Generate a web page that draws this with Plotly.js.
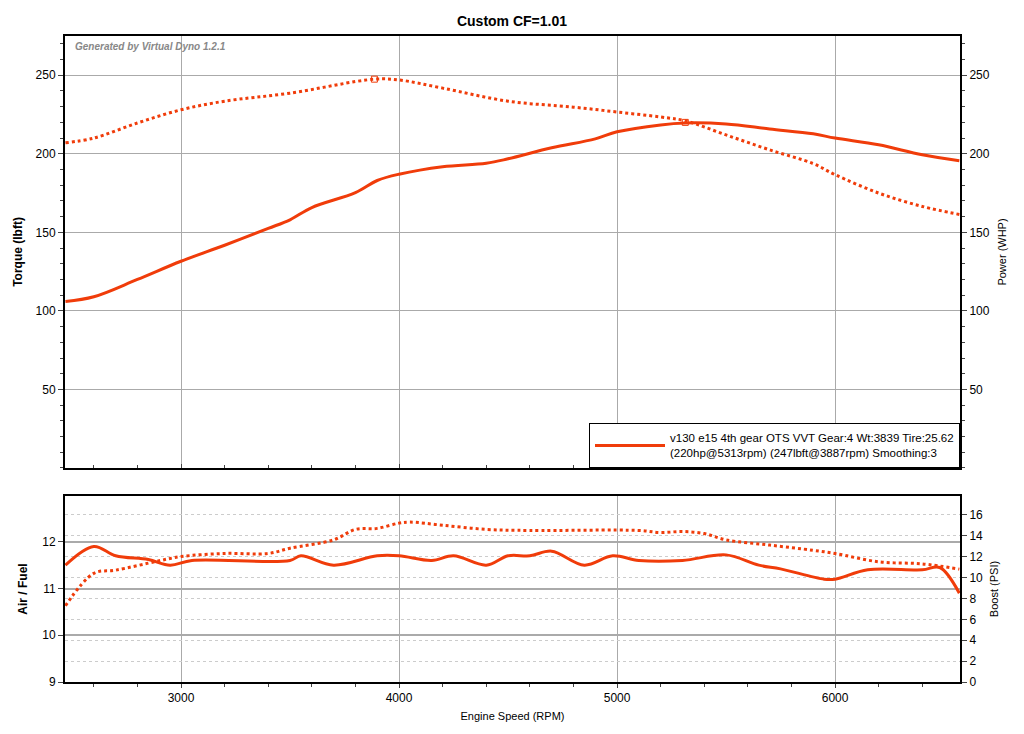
<!DOCTYPE html>
<html>
<head>
<meta charset="utf-8">
<script src="https://cdn.plot.ly/plotly-3.0.1.min.js"></script>
<style>body{margin:0;background:#fff}</style>
</head>
<body>
<div id="chart" style="width:1024px;height:734px"></div>
<script>
// dyno run
var rpmTq = [2470, 2600, 2800, 3000, 3200, 3500, 3887, 4000, 4200, 4500, 4800, 5000, 5200, 5313, 5500, 5700, 5900, 6000, 6200, 6400, 6570];
var torque = [207, 210, 219.6, 228, 233.5, 238.6, 247.5, 247, 241.8, 233.5, 229.7, 226.6, 223.4, 221, 212, 202.5, 193.7, 186.7, 175, 166.5, 161.4];
var rpmHp = [2470, 2600, 2800, 3000, 3200, 3400, 3500, 3600, 3800, 3900, 4000, 4200, 4400, 4500, 4700, 4900, 5000, 5200, 5313, 5500, 5700, 5900, 6000, 6200, 6400, 6570];
var power = [106, 109, 120, 131.6, 141.8, 152.5, 158, 165.8, 175.3, 183, 187, 191.8, 194, 196.8, 203.8, 209.5, 214, 218.4, 219.6, 219, 215.8, 212.7, 210, 205.7, 199.4, 195.6];
var rpmAfr = [2470, 2600, 2700, 2850, 2950, 3050, 3500, 3550, 3700, 3900, 4000, 4150, 4250, 4400, 4500, 4600, 4700, 4850, 4980, 5100, 5300, 5500, 5650, 5750, 5950, 6000, 6150, 6400, 6480, 6570];
var afr = [11.5, 11.9, 11.7, 11.62, 11.5, 11.6, 11.6, 11.7, 11.5, 11.7, 11.7, 11.6, 11.7, 11.5, 11.7, 11.7, 11.8, 11.5, 11.7, 11.6, 11.6, 11.72, 11.5, 11.42, 11.2, 11.2, 11.4, 11.4, 11.45, 10.9];
var rpmBoost = [2470, 2600, 2700, 2900, 3000, 3200, 3400, 3500, 3700, 3800, 3900, 4000, 4050, 4200, 4400, 4600, 5100, 5200, 5300, 5400, 5500, 5700, 5900, 6000, 6200, 6400, 6570];
var boost = [7.3, 10.4, 10.7, 11.6, 12, 12.3, 12.3, 12.8, 13.6, 14.6, 14.7, 15.2, 15.3, 15, 14.6, 14.5, 14.5, 14.3, 14.4, 14.2, 13.6, 13.1, 12.6, 12.3, 11.5, 11.3, 10.8];
var peakRpm = [3887, 5313];
var peakVal = [247.5, 220];

var red = '#f03c0a';
var legendText = 'v130 e15 4th gear OTS VVT Gear:4 Wt:3839 Tire:25.62<br>(220hp@5313rpm) (247lbft@3887rpm) Smoothing:3';

var data = [
  {x: rpmHp, y: power, xaxis: 'x2', yaxis: 'y2', mode: 'lines', line: {color: red, width: 3, shape: 'spline'}, name: legendText, showlegend: true},
  {x: rpmTq, y: torque, xaxis: 'x2', yaxis: 'y', mode: 'lines', line: {color: red, width: 3, dash: 'dot', shape: 'spline'}, showlegend: false},
  {x: peakRpm, y: peakVal, xaxis: 'x2', yaxis: 'y', mode: 'markers', marker: {symbol: 'square-open', size: 6, color: red}, showlegend: false},
  {x: rpmAfr, y: afr, xaxis: 'x', yaxis: 'y3', mode: 'lines', line: {color: red, width: 3, shape: 'spline'}, showlegend: false},
  {x: rpmBoost, y: boost, xaxis: 'x', yaxis: 'y4', mode: 'lines', line: {color: red, width: 3, dash: 'dot', shape: 'spline'}, showlegend: false}
];

var axFont = {family: 'Liberation Sans, Arial', size: 12, color: '#000'};
var ttlFont = {family: 'Liberation Sans, Arial', size: 12, color: '#000'};
var xr = [2468, 6573];
var xdom = [0.0635, 0.9375];

var layout = {
  width: 1024, height: 734,
  margin: {l: 0, r: 0, t: 0, b: 0},
  paper_bgcolor: '#fff', plot_bgcolor: '#fff',
  font: axFont,
  title: {text: '<b>Custom CF=1.01</b>', x: 0.5, y: 0.978, font: {family: 'Liberation Sans, Arial', size: 14, color: '#000'}},
  xaxis: {domain: xdom, anchor: 'y3', range: xr, dtick: 1000, tick0: 0, showgrid: true, gridcolor: '#aaa',
    showline: true, linecolor: '#000', linewidth: 2, mirror: true, ticks: 'outside', ticklen: 4, zeroline: false,
    minor: {dtick: 200, ticks: 'outside', ticklen: 3, showgrid: false},
    title: {text: 'Engine Speed (RPM)', font: {family: 'Liberation Sans, Arial', size: 11}, standoff: 8}, tickfont: axFont},
  xaxis2: {domain: xdom, anchor: 'y', range: xr, dtick: 1000, tick0: 0, showgrid: true, gridcolor: '#aaa',
    showticklabels: false, showline: true, linecolor: '#000', linewidth: 2, mirror: true, ticks: 'inside', ticklen: 4, zeroline: false,
    minor: {dtick: 200, ticks: 'inside', ticklen: 3, showgrid: false}},
  yaxis: {domain: [0.3624, 0.951], range: [0, 275], dtick: 50, tick0: 0, showgrid: true, gridcolor: '#aaa', zeroline: false,
    showline: true, linecolor: '#000', linewidth: 2, ticks: 'outside', ticklen: 5,
    minor: {dtick: 10, ticks: 'outside', ticklen: 3, showgrid: false},
    tickvals: [50, 100, 150, 200, 250],
    title: {text: '<b>Torque (lbft)</b>', font: ttlFont, standoff: 10}, tickfont: axFont},
  yaxis2: {overlaying: 'y', side: 'right', anchor: 'x2', range: [0, 275], tickvals: [50, 100, 150, 200, 250], showgrid: false, zeroline: false,
    showline: true, linecolor: '#000', linewidth: 2, ticks: 'outside', ticklen: 5,
    minor: {dtick: 10, ticks: 'outside', ticklen: 3},
    title: {text: 'Power (WHP)', font: {family: 'Liberation Sans, Arial', size: 11, color: '#000'}, standoff: 10}, tickfont: axFont},
  yaxis3: {domain: [0.0708, 0.3243], anchor: 'x', range: [9, 12.98], tickvals: [9, 10, 11, 12], showgrid: true, gridcolor: '#aaa', gridwidth: 1.5, zeroline: false,
    showline: true, linecolor: '#000', linewidth: 2, ticks: 'outside', ticklen: 5,
    title: {text: '<b>Air / Fuel</b>', font: ttlFont, standoff: 12}, tickfont: axFont},
  yaxis4: {overlaying: 'y3', side: 'right', anchor: 'x', range: [0, 17.8], tickvals: [0, 2, 4, 6, 8, 10, 12, 14, 16], showgrid: true, gridcolor: '#ccc', griddash: 'dot', zeroline: false,
    showline: true, linecolor: '#000', linewidth: 2, ticks: 'outside', ticklen: 5,
    title: {text: 'Boost (PSI)', font: {family: 'Liberation Sans, Arial', size: 11, color: '#000'}, standoff: 8}, tickfont: axFont},
  legend: {x: 0.9375, xanchor: 'right', y: 0.3624, yanchor: 'bottom', bgcolor: '#fff', bordercolor: '#000', borderwidth: 1,
    itemwidth: 70, font: {family: 'Liberation Sans, Arial', size: 11.5, color: '#000'}},
  annotations: [{text: '<i><b>Generated by Virtual Dyno 1.2.1</b></i>', xref: 'paper', yref: 'paper', x: 0.071, y: 0.947, xanchor: 'left', yanchor: 'top',
    showarrow: false, font: {family: 'Liberation Sans, Arial', size: 10, color: '#888'}}]
};

Plotly.newPlot('chart', data, layout, {displayModeBar: false});
</script>
</body>
</html>
